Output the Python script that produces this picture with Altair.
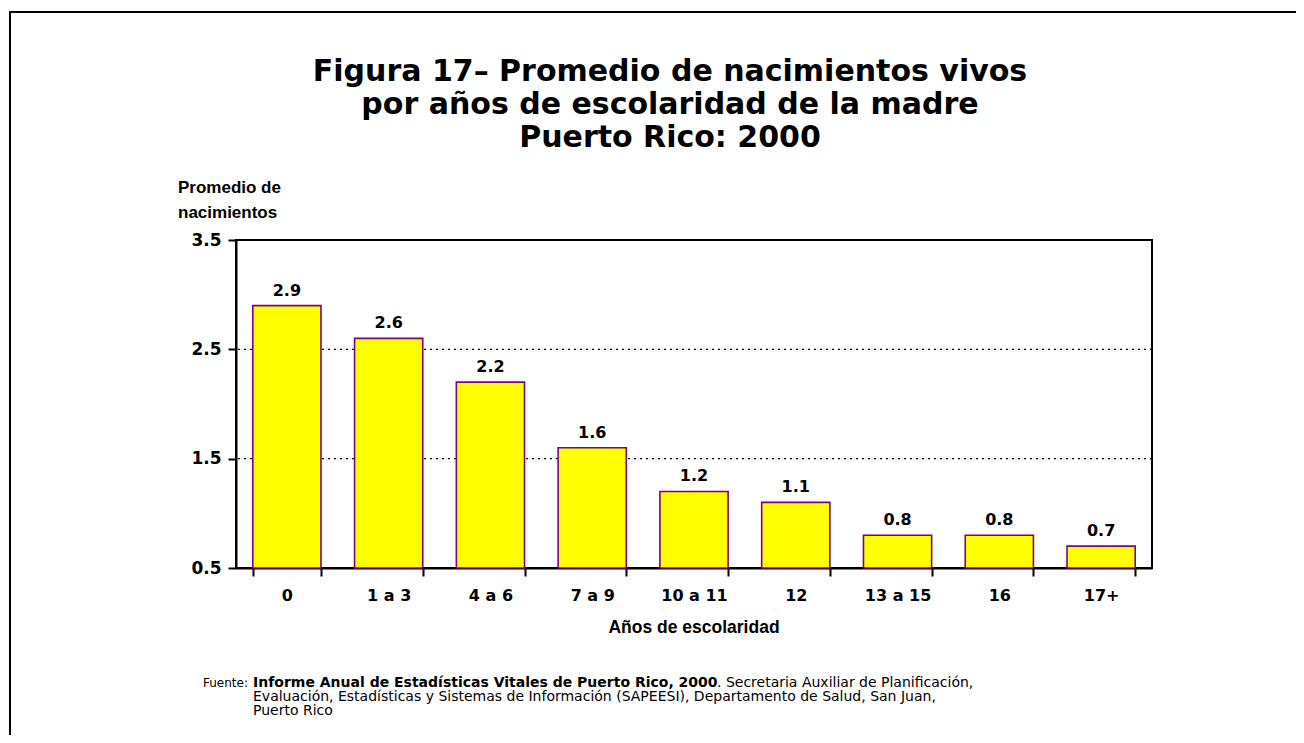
import altair as alt
import pandas as pd

categories = ["0", "1 a 3", "4 a 6", "7 a 9", "10 a 11", "12", "13 a 15", "16", "17+"]
values = [2.9, 2.6, 2.2, 1.6, 1.2, 1.1, 0.8, 0.8, 0.7]
y_ticks = [0.5, 1.5, 2.5, 3.5]
grid_values = [1.5, 2.5, 3.5]

title_lines = ["Figura 17\u2013 Promedio de nacimientos vivos",
               "por años de escolaridad de la madre",
               "Puerto Rico: 2000"]
y_title_lines = ["Promedio de", "nacimientos"]
x_title = "Años de escolaridad"
source_label = "Fuente:"
source_bold = "Informe Anual de Estadísticas  Vitales de Puerto Rico,  2000"
source_rest = ". Secretaria Auxiliar de Planificación,"
source_more = ["Evaluación, Estadísticas y Sistemas de Información (SAPEESI), Departamento de Salud, San Juan,",
               "Puerto Rico"]

df = pd.DataFrame({"cat": categories, "val": values})
one = pd.DataFrame({"k": [0]})

W, H = 916, 328
BOLD = "DejaVu Sans"
ARIAL = "Liberation Sans"
yscale = alt.Scale(domain=[0.5, 3.5], zero=False, nice=False)

x_enc = alt.X("cat:N", sort=categories,
              scale=alt.Scale(paddingInner=0.33, paddingOuter=0.165),
              axis=alt.Axis(title=None, labelAngle=0, labelFont=BOLD, labelFontWeight="bold",
                            labelFontSize=16, labelColor="black", labelPadding=11,
                            tickBand="extent", tickSize=8, tickWidth=2, tickColor="black",
                            domainColor="black", domainWidth=2, grid=False))
y_enc = alt.Y("val:Q", scale=yscale,
              axis=alt.Axis(title=None, values=y_ticks, format=".1f", labelFont=BOLD,
                            labelFontWeight="bold", labelFontSize=17, labelColor="black",
                            labelPadding=7, tickSize=8, tickWidth=2, tickColor="black",
                            domainColor="black", domainWidth=2, grid=False))

grid = alt.Chart(pd.DataFrame({"g": grid_values})).mark_rule(
    color="black", strokeDash=[2, 4], strokeWidth=1.2
).encode(y=alt.Y("g:Q", scale=yscale))

bars = alt.Chart(df).mark_bar(fill="#FFFF00", stroke="#800080", strokeWidth=1.6).encode(
    x=x_enc, y=y_enc, y2=alt.datum(0.5)
)

labels = alt.Chart(df).mark_text(font=BOLD, fontWeight="bold", fontSize=16, dy=-10,
                                 baseline="alphabetic", color="black").encode(
    x=alt.X("cat:N", sort=categories), y="val:Q", text=alt.Text("val:Q", format=".1f")
)

title = alt.Chart(one).mark_text(text=title_lines, font=BOLD, fontWeight="bold", fontSize=30,
                                 lineHeight=33, align="center", baseline="alphabetic",
                                 color="black").encode(x=alt.value(434), y=alt.value(-159))

ytitle = alt.Chart(one).mark_text(text=y_title_lines, font=ARIAL, fontWeight="bold",
                                  fontSize=17, lineHeight=25, align="left", baseline="alphabetic",
                                  color="black").encode(x=alt.value(-58), y=alt.value(-47))

xtitle = alt.Chart(one).mark_text(text=x_title, font=ARIAL, fontWeight="bold",
                                  fontSize=17.5, align="center", baseline="middle",
                                  color="black").encode(x=alt.value(458), y=alt.value(388))

src1 = alt.Chart(one).mark_text(text=source_label, font=BOLD, fontSize=12, align="left",
                                baseline="alphabetic", color="black").encode(
    x=alt.value(-33), y=alt.value(447))
src2 = alt.Chart(one).mark_text(text=source_bold, font=BOLD, fontWeight="bold", fontSize=14,
                                align="left", baseline="alphabetic", color="black").encode(
    x=alt.value(17), y=alt.value(447))
src3 = alt.Chart(one).mark_text(text=source_rest, font=BOLD, fontSize=14, align="left",
                                baseline="alphabetic", color="black").encode(
    x=alt.value(481), y=alt.value(447))
src4 = alt.Chart(one).mark_text(text=source_more, font=BOLD, fontSize=14, lineHeight=14,
                                align="left", baseline="alphabetic", color="black").encode(
    x=alt.value(17), y=alt.value(461))

border = alt.Chart(one).mark_rect(fill=None, stroke="black", strokeWidth=2).encode(
    x=alt.value(-226), x2=alt.value(1200), y=alt.value(-228), y2=alt.value(700)
)

chart = alt.layer(border, grid, bars, labels, title, ytitle, xtitle, src1, src2, src3, src4).properties(
    width=W, height=H,
    autosize=alt.AutoSizeParams(type="none"),
    padding={"left": 228, "top": 232, "right": 144, "bottom": 167},
    background="white",
).configure_view(stroke="black", strokeWidth=2)

chart.save("out.html", embed_options={"renderer": "svg", "actions": False})
